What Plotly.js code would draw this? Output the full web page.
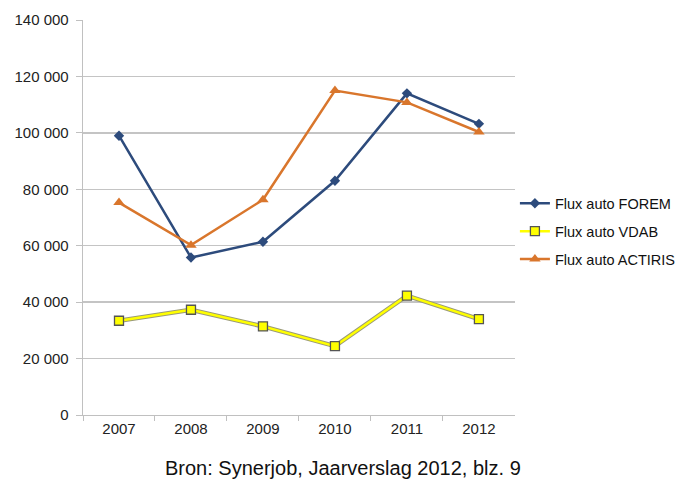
<!DOCTYPE html>
<html><head><meta charset="utf-8">
<script src="https://cdn.plot.ly/plotly-3.0.1.min.js"></script>
<style>html,body{margin:0;padding:0;background:#fff;}#chart{width:682px;height:482px;}</style>
</head><body><div id="chart"></div>
<script>
const years = ["2007","2008","2009","2010","2011","2012"];
const forem = [99000, 55800, 61400, 83000, 114000, 103200];
const vdab = [33400, 37300, 31400, 24400, 42300, 34000];
const actiris = [75300, 60200, 76300, 115000, 110800, 100300];
const yTickVals = [0, 20000, 40000, 60000, 80000, 100000, 120000, 140000];
const yTickText = ["0", "20 000", "40 000", "60 000", "80 000", "100 000", "120 000", "140 000"];

const traces = [
  {x: years, y: forem, name: "Flux auto FOREM", mode: "lines+markers", legendgroup: "a",
   line: {color: "#2d4b7c", width: 2.5}, marker: {symbol: "diamond", size: 8, color: "#2d4b7c"}},
  {x: years, y: vdab, name: "vdab-outline", mode: "lines", showlegend: false, hoverinfo: "skip",
   line: {color: "#9a9a78", width: 4.5}},
  {x: years, y: vdab, name: "Flux auto VDAB", mode: "lines+markers", legendgroup: "b",
   line: {color: "#ffff00", width: 2.5},
   marker: {symbol: "square", size: 9, color: "#ffff00", line: {color: "#555", width: 1.3}}},
  {x: years, y: actiris, name: "Flux auto ACTIRIS", mode: "lines+markers", legendgroup: "c",
   line: {color: "#d9762c", width: 2.5}, marker: {symbol: "triangle-up", size: 10, color: "#d9762c"}}
];

const layout = {
  width: 682, height: 482,
  margin: {l: 83, r: 163, t: 20, b: 67},
  paper_bgcolor: "#fff", plot_bgcolor: "#fff",
  font: {family: "Liberation Sans, Arial, sans-serif", size: 15, color: "#222"},
  showlegend: true,
  legend: {xref: "container", yref: "container", x: 0.755, y: 0.52, xanchor: "left", yanchor: "middle",
           font: {size: 14.5, color: "#111"}, itemwidth: 30, tracegroupgap: 6,
           bgcolor: "rgba(0,0,0,0)"},
  xaxis: {type: "category", range: [-0.5, 5.5], tickson: "boundaries", ticks: "outside",
          ticklen: 5, tickcolor: "#c0c0c0", showline: true, linecolor: "#c0c0c0", linewidth: 1.3,
          showgrid: false, tickfont: {size: 15, color: "#222"}, fixedrange: true},
  yaxis: {range: [0, 140000], tickvals: yTickVals, ticktext: yTickText, ticks: "outside",
          ticklen: 6, tickcolor: "#c0c0c0", showline: true, linecolor: "#c0c0c0", linewidth: 1.3,
          showgrid: true, gridcolor: "#c4c4c4", gridwidth: 1.3, zeroline: false,
          tickfont: {size: 15, color: "#222"}, ticklabelstandoff: 4, fixedrange: true},
  annotations: [{text: "Bron: Synerjob, Jaarverslag 2012, blz. 9", xref: "paper", yref: "paper",
                 x: 0.601, y: -0.134, xanchor: "center", yanchor: "middle", showarrow: false,
                 font: {size: 20, color: "#111"}}]
};
Plotly.newPlot("chart", traces, layout, {displayModeBar: false, staticPlot: true});
</script></body></html>
